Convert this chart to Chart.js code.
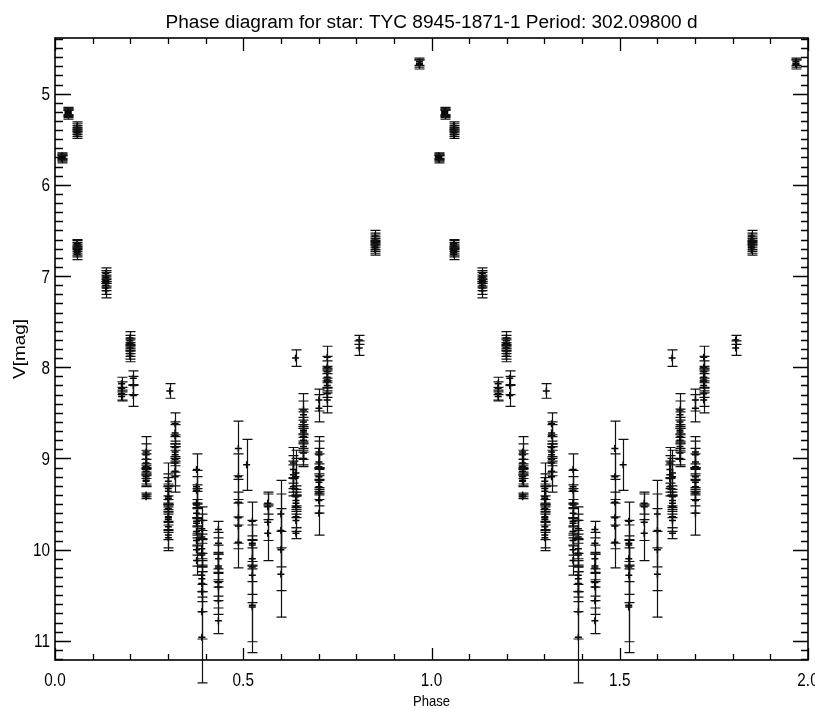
<!DOCTYPE html>
<html>
<head>
<meta charset="utf-8">
<title>Phase diagram</title>
<script src="https://cdn.jsdelivr.net/npm/chart.js@4"></script>
<style>
  html, body { margin: 0; padding: 0; background: #fff; }
  canvas { display: block; }
</style>
</head>
<body>
<canvas id="phase" width="815" height="708"></canvas>
<script>
const starName = 'TYC 8945-1871-1';
const period = '302.09800';

// one column of observations per entry: phase, V magnitudes, 1-sigma errors
const colPhase = [
    0.019, 0.035, 0.059, 0.059, 0.135, 0.199, 0.177, 0.208,
    0.242, 0.305, 0.301, 0.319, 0.376, 0.390, 0.434, 0.487,
    0.509, 0.524, 0.565, 0.600, 0.633, 0.640, 0.639, 0.660,
    0.701, 0.701, 0.723, 0.808, 0.850, 0.968
];
const colMag = [
    [5.68, 5.69, 5.70, 5.71, 5.72],
    [5.19, 5.20, 5.21, 5.22, 5.23],
    [5.35, 5.37, 5.39, 5.41, 5.43, 5.45],
    [6.64, 6.66, 6.68, 6.70, 6.72, 6.74, 6.76],
    [6.97, 7.00, 7.02, 7.05, 7.07, 7.10, 7.13, 7.16],
    [7.68, 7.71, 7.74, 7.76, 7.79, 7.82, 7.85, 7.88],
    [8.18, 8.23, 8.29, 8.32],
    [8.12, 8.20, 8.31],
    [8.93, 8.96, 9.01, 9.05, 9.09, 9.14, 9.20, 9.24, 9.25, 9.40, 9.42],
    [8.26],
    [9.25, 9.33, 9.36, 9.42, 9.44, 9.45, 9.55, 9.64, 9.65, 9.67, 9.75, 9.84, 9.87],
    [8.62, 8.72, 8.75, 8.88, 8.93, 8.96, 9.01, 9.05, 9.14, 9.20],
    [9.12, 9.31, 9.35, 9.49, 9.51, 9.60, 9.69, 9.71, 9.80, 9.90, 10.00, 10.12],
    [9.68, 9.77, 9.86, 9.99, 10.04, 10.06, 10.28, 10.32, 10.37, 10.46, 10.68, 10.96],
    [9.78, 9.93, 10.10, 10.18, 10.20, 10.36, 10.41, 10.56, 10.78],
    [8.89, 9.20, 9.48, 9.65, 9.74, 9.92],
    [9.07],
    [9.69, 9.93, 9.95, 10.10, 10.19, 10.28, 10.61, 10.63],
    [9.49, 9.53, 9.70, 9.82],
    [9.61, 9.79, 10.00, 10.27],
    [9.05, 9.12, 9.18, 9.22, 9.31],
    [9.16, 9.20, 9.42, 9.46, 9.49, 9.53, 9.64, 9.68, 9.82],
    [7.90],
    [8.47, 8.52, 8.60, 8.63, 8.69, 8.71, 8.76, 8.80, 8.87, 8.94, 9.00],
    [8.36, 8.45],
    [8.93, 8.96, 9.04, 9.09, 9.20, 9.24, 9.26, 9.31, 9.38, 9.46, 9.60],
    [7.89, 8.00, 8.05, 8.11, 8.14, 8.16, 8.20, 8.29, 8.36],
    [7.70, 7.79],
    [6.56, 6.59, 6.61, 6.63, 6.65, 6.67, 6.69, 6.71],
    [4.65, 4.67, 4.68]
];
const colErr = [
    [0.03, 0.03, 0.03, 0.03, 0.04],
    [0.04, 0.04, 0.04, 0.04, 0.05],
    [0.04, 0.04, 0.04, 0.04, 0.04, 0.04],
    [0.04, 0.05, 0.05, 0.05, 0.05, 0.05, 0.06],
    [0.06, 0.06, 0.06, 0.06, 0.06, 0.06, 0.07, 0.08],
    [0.07, 0.06, 0.06, 0.06, 0.06, 0.06, 0.06, 0.06],
    [0.07, 0.07, 0.07, 0.05],
    [0.08, 0.10, 0.12],
    [0.17, 0.12, 0.10, 0.10, 0.08, 0.08, 0.08, 0.06, 0.06, 0.02, 0.02],
    [0.08],
    [0.20, 0.16, 0.15, 0.14, 0.14, 0.14, 0.14, 0.14, 0.14, 0.14, 0.14, 0.14, 0.14],
    [0.12, 0.12, 0.12, 0.12, 0.12, 0.12, 0.14, 0.14, 0.16, 0.17],
    [0.17, 0.18, 0.15, 0.16, 0.15, 0.15, 0.15, 0.16, 0.15, 0.16, 0.18, 0.16],
    [0.15, 0.16, 0.18, 0.20, 0.15, 0.18, 0.18, 0.20, 0.20, 0.22, 0.30, 0.50],
    [0.09, 0.12, 0.15, 0.15, 0.15, 0.15, 0.15, 0.15, 0.14],
    [0.30, 0.25, 0.25, 0.28, 0.25, 0.28],
    [0.28],
    [0.21, 0.25, 0.22, 0.25, 0.30, 0.30, 0.40, 0.50],
    [0.12, 0.14, 0.20, 0.30],
    [0.37, 0.40, 0.45, 0.47],
    [0.17, 0.15, 0.15, 0.15, 0.10],
    [0.25, 0.20, 0.12, 0.12, 0.12, 0.12, 0.12, 0.12, 0.06],
    [0.09],
    [0.18, 0.15, 0.14, 0.14, 0.14, 0.13, 0.13, 0.13, 0.14, 0.13, 0.09],
    [0.12, 0.15],
    [0.17, 0.15, 0.15, 0.14, 0.14, 0.14, 0.14, 0.14, 0.14, 0.14, 0.24],
    [0.12, 0.12, 0.12, 0.12, 0.12, 0.12, 0.13, 0.14, 0.14],
    [0.05, 0.08],
    [0.06, 0.06, 0.06, 0.06, 0.06, 0.06, 0.06, 0.06],
    [0.04, 0.04, 0.05]
];

const phaseRange = [0, 2];
const magRange = [4.39, 11.21];
const xTickLabels = ['0.0', '0.5', '1.0', '1.5', '2.0'];
const yTickLabels = ['5', '6', '7', '8', '9', '10', '11'];

// every observation is shown twice, one cycle apart
const points = [];
colPhase.forEach((ph, i) => {
    colMag[i].forEach((m, j) => {
        points.push({ x: ph, y: m, e: colErr[i][j] });
        points.push({ x: ph + 1, y: m, e: colErr[i][j] });
    });
});

const FONT = '"Liberation Sans", "DejaVu Sans", sans-serif';

// text drawn with a horizontal squeeze, IDL's vector font is narrow
function squeezedText(ctx, text, x, y, size, sx, align) {
    ctx.save();
    ctx.font = size + 'px ' + FONT;
    ctx.textBaseline = 'alphabetic';
    const w = ctx.measureText(text).width * sx;
    let x0 = x;
    if (align === 'center') x0 = x - w / 2;
    else if (align === 'right') x0 = x - w;
    ctx.translate(x0, y);
    ctx.scale(sx, 1);
    ctx.textAlign = 'left';
    ctx.fillText(text, 0, 0);
    ctx.restore();
}

function fitScale(ctx, text, size, width) {
    ctx.font = size + 'px ' + FONT;
    return width / ctx.measureText(text).width;
}

const errorBars = {
    id: 'errorBars',
    afterDatasetsDraw(chart) {
        const { ctx, scales: { x, y } } = chart;
        ctx.save();
        ctx.strokeStyle = '#111';
        ctx.lineWidth = 1.2;
        chart.data.datasets[0].data.forEach(p => {
            const px = Math.round(x.getPixelForValue(p.x)) + 0.5;
            const y1 = y.getPixelForValue(p.y - p.e);
            const y2 = y.getPixelForValue(p.y + p.e);
            ctx.beginPath();
            ctx.moveTo(px, y1);
            ctx.lineTo(px, y2);
            ctx.moveTo(px - 5, y1);
            ctx.lineTo(px + 5, y1);
            ctx.moveTo(px - 5, y2);
            ctx.lineTo(px + 5, y2);
            ctx.stroke();
        });
        ctx.restore();
    }
};

// box with inward ticks on all four sides, labels and titles
const frame = {
    id: 'frame',
    afterDraw(chart) {
        const { ctx, chartArea: a, scales: { x, y } } = chart;
        ctx.save();
        ctx.strokeStyle = '#000';
        ctx.fillStyle = '#000';

        ctx.lineWidth = 1.3;
        ctx.beginPath();
        for (let i = Math.round(phaseRange[0] * 10); i <= Math.round(phaseRange[1] * 10); i++) {
            const px = Math.round(x.getPixelForValue(i / 10)) + 0.5;
            const major = i % 5 === 0;
            ctx.moveTo(px, a.bottom);
            ctx.lineTo(px, a.bottom - (major ? 12 : 6));
            ctx.moveTo(px, a.top);
            ctx.lineTo(px, a.top + (major ? 13 : 6));
        }
        for (let i = Math.ceil(magRange[0] * 10); i <= Math.floor(magRange[1] * 10); i++) {
            const py = Math.round(y.getPixelForValue(i / 10)) + 0.5;
            const major = i % 10 === 0;
            ctx.moveTo(a.left, py);
            ctx.lineTo(a.left + (major ? 16 : 8), py);
            ctx.moveTo(a.right, py);
            ctx.lineTo(a.right - (major ? 15 : 7), py);
        }
        ctx.stroke();

        ctx.lineWidth = 1.6;
        ctx.strokeRect(a.left, a.top, a.right - a.left, a.bottom - a.top);

        xTickLabels.forEach(t => {
            squeezedText(ctx, t, x.getPixelForValue(parseFloat(t)), 686, 18, 0.85, 'center');
        });
        yTickLabels.forEach(t => {
            squeezedText(ctx, t, 50, y.getPixelForValue(parseFloat(t)) + 6.5, 18, 0.85, 'right');
        });

        const title = 'Phase diagram for star: ' + starName + ' Period: ' + period + ' d';
        squeezedText(ctx, title, (a.left + a.right) / 2, 28, 18, fitScale(ctx, title, 18, 532), 'center');

        squeezedText(ctx, 'Phase', (a.left + a.right) / 2, 706, 15, fitScale(ctx, 'Phase', 15, 37), 'center');

        ctx.save();
        ctx.translate(25, (a.top + a.bottom) / 2);
        ctx.rotate(-Math.PI / 2);
        squeezedText(ctx, 'V[mag]', 0, 0, 17, fitScale(ctx, 'V[mag]', 17, 60), 'center');
        ctx.restore();

        ctx.restore();
    }
};

new Chart(document.getElementById('phase').getContext('2d'), {
    type: 'scatter',
    data: {
        datasets: [{
            data: points,
            pointStyle: 'cross',
            radius: 3.5,
            hoverRadius: 3.5,
            borderWidth: 1.5,
            borderColor: '#000',
            backgroundColor: '#000',
            clip: false
        }]
    },
    options: {
        responsive: false,
        animation: false,
        devicePixelRatio: 1,
        layout: {
            autoPadding: false,
            padding: { left: 55, right: 7, top: 38, bottom: 48 }
        },
        plugins: {
            legend: { display: false },
            tooltip: { enabled: false }
        },
        scales: {
            x: { type: 'linear', min: phaseRange[0], max: phaseRange[1], display: false },
            y: { type: 'linear', min: magRange[0], max: magRange[1], reverse: true, display: false }
        }
    },
    plugins: [errorBars, frame]
});
</script>
</body>
</html>
